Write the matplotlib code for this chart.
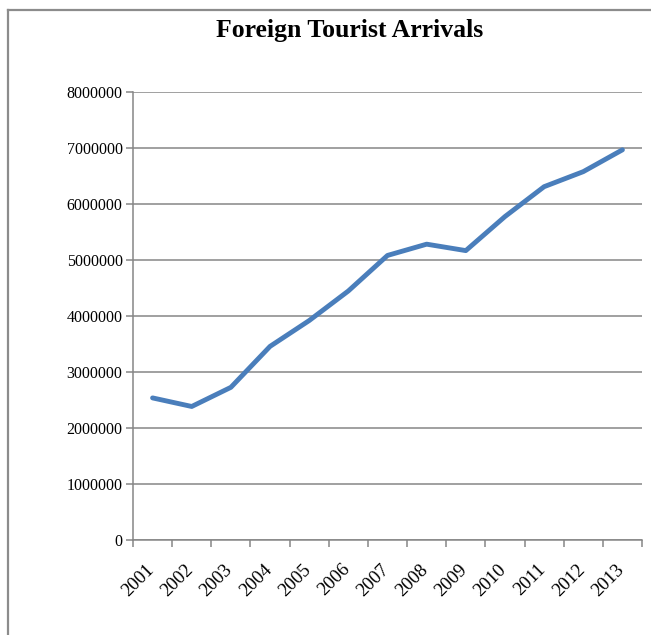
import matplotlib
matplotlib.use("Agg")
import matplotlib.pyplot as plt
import matplotlib.transforms as mtransforms
from matplotlib.lines import Line2D
from matplotlib.ticker import FixedLocator, NullFormatter
import numpy as np

years = ["2001", "2002", "2003", "2004", "2005", "2006", "2007",
         "2008", "2009", "2010", "2011", "2012", "2013"]
arrivals = [2537282, 2384364, 2726214, 3457477, 3918610, 4447167, 5081504,
            5282603, 5167699, 5775692, 6309222, 6577745, 6967601]
y_ticks = [0, 1000000, 2000000, 3000000, 4000000, 5000000, 6000000,
           7000000, 8000000]

W, H = 651, 635
plt.rcParams["font.family"] = ["Liberation Serif", "DejaVu Serif"]

fig = plt.figure(figsize=(W / 100, H / 100), dpi=100)
fig.patch.set_facecolor("white")

# chart frame (only left and top edges visible in the crop)
border = "#8c8c8c"
fig.add_artist(Line2D([7.5 / W, 7.5 / W], [0, 1 - 9.5 / H], color=border,
                      lw=1.6, transform=fig.transFigure))
fig.add_artist(Line2D([7.5 / W, 1], [1 - 9.5 / H, 1 - 9.5 / H], color=border,
                      lw=1.6, transform=fig.transFigure))

ax = fig.add_axes([133 / W, 1 - 540 / H, (642 - 133) / W, (540 - 92) / H])

x = np.arange(len(years))
ax.plot(x, arrivals, color="#4A7EBB", lw=3.5, solid_capstyle="round",
        solid_joinstyle="round", zorder=3)

grid = "#868686"
ax.set_xlim(-0.5, len(years) - 0.5)
ax.set_ylim(0, 8000000)
ax.set_yticks(y_ticks)
ax.set_yticklabels([str(v) for v in y_ticks])
ax.yaxis.grid(True, color=grid, lw=1.1)
ax.set_axisbelow(True)

ax.xaxis.set_major_locator(FixedLocator(np.arange(len(years) + 1) - 0.5))
ax.xaxis.set_major_formatter(NullFormatter())
ax.xaxis.set_minor_locator(FixedLocator(x))
ax.set_xticklabels(years, minor=True, rotation=45, ha="right", va="top",
                   fontsize=13.5)
ax.tick_params(axis="x", which="minor", length=0, pad=15)
ax.tick_params(axis="x", which="major", length=5, width=1.1, color=grid,
               direction="out")
ax.tick_params(axis="y", length=5, width=1.1, color=grid, direction="out",
               labelsize=11.5, pad=2.5)

# nudge the slanted year labels a little to the right, like the original
shift = mtransforms.ScaledTranslation(5 / 100, 0, fig.dpi_scale_trans)
for lbl in ax.get_xticklabels(minor=True):
    lbl.set_transform(lbl.get_transform() + shift)

for side in ("top", "right"):
    ax.spines[side].set_visible(False)
for side in ("left", "bottom"):
    ax.spines[side].set_color(grid)
    ax.spines[side].set_linewidth(1.1)

fig.text(350 / W, 1 - 30 / H, "Foreign Tourist Arrivals", ha="center",
         va="center", fontsize=18.5, fontweight="bold")

fig.savefig("out.png", dpi=100)
